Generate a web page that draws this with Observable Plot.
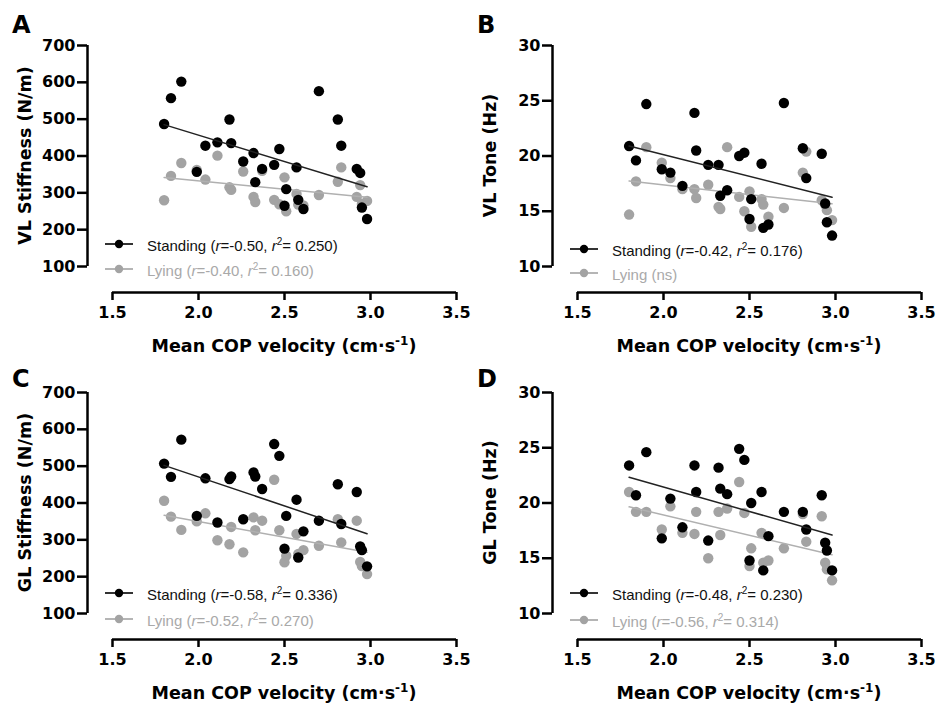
<!DOCTYPE html>
<html><head><meta charset="utf-8">
<script src="https://cdn.jsdelivr.net/npm/d3@7"></script>
<script src="https://cdn.jsdelivr.net/npm/@observablehq/plot@0.6"></script>
<style>
html,body{margin:0;padding:0;background:#fff;}
#fig{position:relative;width:936px;height:709px;overflow:hidden;background:#fff;}
#fig > .panel{position:absolute;}
#fig svg{overflow:visible;}
</style></head><body><div id="fig"></div>
<script>
// ---- data ----
const copVelocity = [1.80,1.84,1.90,1.99,2.04,2.11,2.18,2.19,2.26,2.32,2.33,2.37,2.44,2.47,2.50,2.51,2.57,2.58,2.61,2.70,2.81,2.83,2.92,2.94,2.95,2.98];

const vlStiffnessStanding = [487,557,602,357,428,437,499,435,385,408,329,365,376,419,265,310,369,281,256,576,499,428,365,354,260,229];
const vlStiffnessLying    = [280,346,381,362,336,401,315,308,358,289,275,360,281,269,342,250,297,268,266,294,330,369,289,321,270,278];

const vlToneStanding = [20.9,19.6,24.7,18.8,18.5,17.3,23.9,20.5,19.2,19.2,16.4,16.9,20.0,20.3,14.3,16.1,19.3,13.5,13.8,24.8,20.7,18.0,20.2,15.7,14.0,12.8];
const vlToneLying    = [14.7,17.7,20.8,19.4,18.0,17.0,17.0,16.2,17.4,15.4,15.2,20.8,16.3,15.0,16.8,13.6,16.1,15.6,14.5,15.3,18.5,20.4,16.0,15.6,15.1,14.2];

const glStiffnessStanding = [507,471,572,365,467,347,465,472,356,483,472,438,560,528,276,365,409,252,323,352,451,343,430,282,272,228];
const glStiffnessLying    = [406,363,327,350,372,299,288,335,266,361,326,352,463,326,239,257,316,262,272,284,356,293,352,240,229,207];

const glToneStanding = [23.4,20.7,24.6,16.8,20.4,17.8,23.4,21.0,16.6,23.2,21.3,20.8,24.9,23.9,14.8,20.0,21.0,13.9,17.0,19.2,19.2,17.6,20.7,16.4,15.7,13.9];
const glToneLying    = [21.0,19.2,19.2,17.6,19.7,17.3,17.2,19.2,15.0,19.2,17.1,19.5,21.9,19.1,14.3,15.9,17.3,14.6,14.8,15.9,19.0,16.5,18.8,14.6,14.0,13.0];

const xTicks = [1.5,2.0,2.5,3.0,3.5];
const stiffnessTicks = [100,200,300,400,500,600,700];
const toneTicks = [10,15,20,25,30];

const panelLetters = ["A","B","C","D"];
const yTitles = ["VL Stiffness (N/m)","VL Tone (Hz)","GL Stiffness (N/m)","GL Tone (Hz)"];
const standingStats = [["-0.50","0.250"],["-0.42","0.176"],["-0.58","0.336"],["-0.48","0.230"]];
const lyingStats    = [["-0.40","0.160"],null,["-0.52","0.270"],["-0.56","0.314"]];

// ---- layout ----
const W = 468, H = 347;
const axisLeftPx = 87, x0Px = 112, x1Px = 456;   // y-axis line, 1.5 and 3.5
const yTopPx = 45, yBotPx = 266, xAxisPx = 292;  // top tick, bottom tick, x-axis line
const BLACK = "#000", GRAY = "#a3a3a3", GRAYTXT = "#a9a9a9";

const panels = [
  {left:0,   top:0,   letterY:33, legY:[244,269], standing:vlStiffnessStanding, lying:vlStiffnessLying, ticks:stiffnessTicks},
  {left:465, top:0,   letterY:33, legY:[249,273], standing:vlToneStanding,      lying:vlToneLying,      ticks:toneTicks},
  {left:0,   top:347, letterY:40, legY:[246,272], standing:glStiffnessStanding, lying:glStiffnessLying, ticks:stiffnessTicks},
  {left:465, top:347, letterY:40, legY:[246,273], standing:glToneStanding,      lying:glToneLying,      ticks:toneTicks}
];

const fig = document.getElementById("fig");

panels.forEach((p, k) => {
  const t0 = p.ticks[0], tN = p.ticks[p.ticks.length-1];
  const yLow = t0 - (xAxisPx - yBotPx) / (yBotPx - yTopPx) * (tN - t0);
  const xLow = xTicks[0] - (x0Px - axisLeftPx) / (x1Px - x0Px) * (xTicks[xTicks.length-1] - xTicks[0]);
  const stand = copVelocity.map((x,i) => ({x, y: p.standing[i]}));
  const lie = copVelocity.map((x,i) => ({x, y: p.lying[i]}));

  const plot = Plot.plot({
    width: W, height: H,
    marginLeft: axisLeftPx, marginRight: W - x1Px,
    marginTop: yTopPx, marginBottom: H - xAxisPx,
    x: {domain: [xLow, xTicks[xTicks.length-1]]},
    y: {domain: [yLow, tN]},
    style: {fontFamily: "'DejaVu Sans', sans-serif", fontWeight: "bold", fontSize: "16px", color: "#000", background: "transparent", overflow: "visible"},
    marks: [
      Plot.axisY({ticks: p.ticks, tickSize: 10, tickPadding: 2, label: null, tickFormat: d => String(d), fontSize: 16, fontWeight: "bold", strokeWidth: 2.5, fill: "#000"}),
      Plot.axisX({ticks: xTicks, tickSize: 8, tickPadding: 6, label: null, tickFormat: d => d.toFixed(1), fontSize: 16, fontWeight: "bold", strokeWidth: 2.5, fill: "#000"}),
      Plot.ruleX([xLow], {y1: t0, y2: tN, stroke: BLACK, strokeWidth: 2.5}),
      Plot.ruleY([yLow], {x1: xTicks[0], x2: xTicks[xTicks.length-1], stroke: BLACK, strokeWidth: 2.5}),
      Plot.dot(lie, {x: "x", y: "y", r: 5.2, fill: GRAY, stroke: "none"}),
      Plot.linearRegressionY(lie, {x: "x", y: "y", stroke: "#b0b0b0", strokeWidth: 1.5, ci: 0}),
      Plot.dot(stand, {x: "x", y: "y", r: 5.2, fill: BLACK, stroke: "none"}),
      Plot.linearRegressionY(stand, {x: "x", y: "y", stroke: "#222", strokeWidth: 1.5, ci: 0})
    ]
  });

  const wrap = document.createElement("div");
  wrap.className = "panel";
  wrap.style.left = p.left + "px";
  wrap.style.top = p.top + "px";
  wrap.appendChild(plot);
  fig.appendChild(wrap);

  const svg = d3.select(plot);
  const g = svg.append("g").attr("text-anchor", "start");

  // panel letter
  g.append("text").attr("x", 12).attr("y", p.letterY).attr("text-anchor", "start")
    .attr("fill", "#000").style("font-family", "'DejaVu Sans', sans-serif").style("font-weight", "bold").style("font-size", "24px")
    .text(panelLetters[k]);

  // y title
  g.append("text").attr("transform", `translate(31,${(yTopPx + yBotPx)/2}) rotate(-90)`)
    .attr("text-anchor", "middle").attr("fill", "#000")
    .style("font-family", "'DejaVu Sans', sans-serif").style("font-weight", "bold").style("font-size", "17.5px")
    .text(yTitles[k]);

  // x title
  const xt = g.append("text").attr("x", (x0Px + x1Px)/2).attr("y", 352).attr("text-anchor", "middle").attr("fill", "#000")
    .style("font-family", "'DejaVu Sans', sans-serif").style("font-weight", "bold").style("font-size", "17.5px");
  xt.append("tspan").text("Mean COP velocity (cm\u00B7s");
  xt.append("tspan").attr("dy", -7).style("font-size", "12px").text("-1");
  xt.append("tspan").attr("dy", 7).text(")");

  // legend
  const items = [
    {label: "Standing", stats: standingStats[k], color: BLACK, txt: "#111", y: p.legY[0]},
    {label: "Lying", stats: lyingStats[k], color: GRAY, txt: GRAYTXT, y: p.legY[1]}
  ];
  items.forEach(it => {
    g.append("line").attr("x1", 105).attr("x2", 133).attr("y1", it.y).attr("y2", it.y)
      .attr("stroke", it.color).attr("stroke-width", 1.6);
    g.append("circle").attr("cx", 119).attr("cy", it.y).attr("r", 4.2).attr("fill", it.color);
    const t = g.append("text").attr("x", 147).attr("y", it.y + 6.5).attr("text-anchor", "start").attr("fill", it.txt)
      .style("font-family", "'Liberation Sans', Arial, sans-serif").style("font-weight", "normal").style("font-size", "15px");
    if (it.stats) {
      t.append("tspan").text(it.label + " (");
      t.append("tspan").style("font-style", "italic").text("r");
      t.append("tspan").text("=" + it.stats[0] + ", ");
      t.append("tspan").style("font-style", "italic").text("r");
      t.append("tspan").attr("dy", -6).style("font-size", "10px").text("2");
      t.append("tspan").attr("dy", 6).text("= " + it.stats[1] + ")");
    } else {
      t.append("tspan").text(it.label + " (ns)");
    }
  });
});
</script>
</body></html>
